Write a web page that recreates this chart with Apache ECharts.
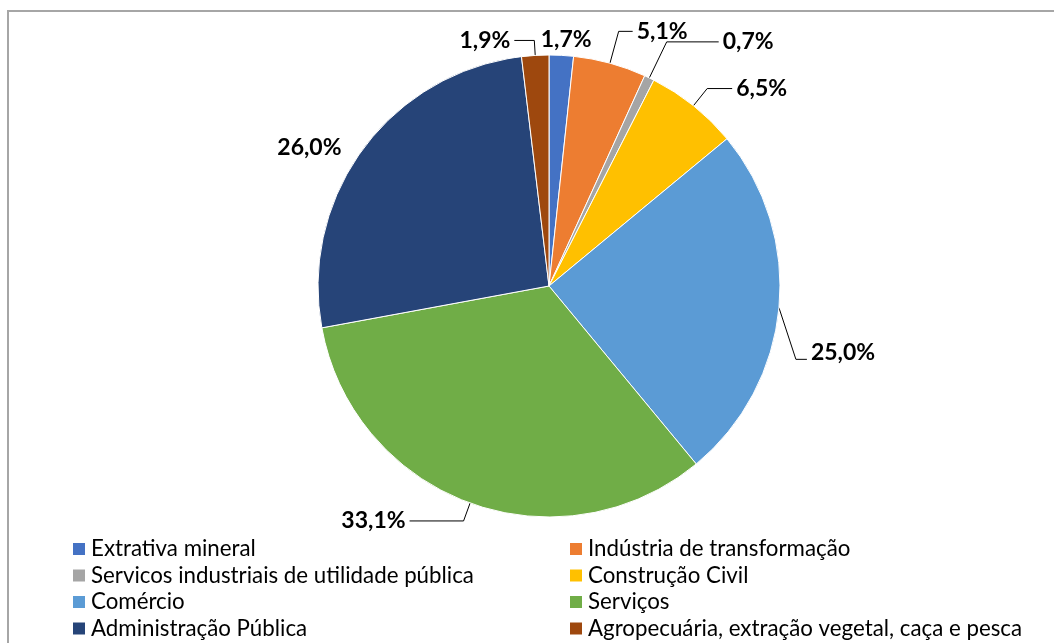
<!DOCTYPE html>
<html>
<head>
<meta charset="utf-8">
<script src="https://cdn.jsdelivr.net/npm/echarts@6/dist/echarts.min.js"></script>
<style>
  html, body { margin: 0; padding: 0; background: #fff; }
  #chart { width: 1054px; height: 643px; }
</style>
</head>
<body>
<div id="chart"></div>
<script>
// Participação dos setores de atividade (%)
const sectors = [
  'Extrativa mineral',
  'Indústria de transformação',
  'Servicos industriais de utilidade pública',
  'Construção Civil',
  'Comércio',
  'Serviços',
  'Administração Pública',
  'Agropecuária, extração vegetal, caça e pesca'
];
const shares = [1.7, 5.1, 0.7, 6.5, 25.0, 33.1, 26.0, 1.9];
const sectorColors = ['#4472C4', '#ED7D31', '#A5A5A5', '#FFC000', '#5B9BD5', '#70AD47', '#264478', '#9E480E'];

// legend columns: left column takes the even entries, right column the odd ones
const leftColumn = sectors.filter((_, i) => i % 2 === 0);
const rightColumn = sectors.filter((_, i) => i % 2 === 1);

// leader-line geometry per slice: radial part, horizontal part, visibility
const leader = [
  { len: 16, len2: 0,  show: false },
  { len: 33, len2: 14, show: true },
  { len: 40, len2: 52, show: true },
  { len: 22, len2: 25, show: true },
  { len: 17, len2: 11, show: true },
  { len: 19, len2: 54, show: true },
  { len: 3,  len2: 15, show: false },
  { len: 15, len2: 20, show: true }
];

const fmt = v => v.toFixed(1).replace('.', ',') + '%';

const pieData = sectors.map((name, i) => ({
  name: name,
  value: shares[i],
  itemStyle: { color: sectorColors[i] },
  labelLine: { show: leader[i].show, length: leader[i].len, length2: leader[i].len2 }
}));

const legendBase = {
  orient: 'vertical',
  top: 536,
  padding: 0,
  itemGap: 0.5,
  itemWidth: 14,
  itemHeight: 14,
  icon: 'rect',
  selectedMode: false,
  textStyle: { fontFamily: 'Lato', fontSize: 22.3, color: '#000', lineHeight: 26 }
};

const chart = echarts.init(document.getElementById('chart'), null, { renderer: 'canvas' });
chart.setOption({
  animation: false,
  backgroundColor: '#fff',
  graphic: [{
    type: 'rect',
    shape: { x: 8, y: 11, width: 1200, height: 800 },
    style: { fill: 'none', stroke: '#a6a6a6', lineWidth: 2 },
    silent: true
  }],
  legend: [
    Object.assign({}, legendBase, { left: 71, data: leftColumn }),
    Object.assign({}, legendBase, { left: 568, data: rightColumn })
  ],
  series: [{
    type: 'pie',
    center: [549, 286],
    radius: 231,
    startAngle: 90,
    clockwise: true,
    avoidLabelOverlap: false,
    data: pieData,
    itemStyle: { borderColor: '#fff', borderWidth: 1 },
    label: {
      show: true,
      position: 'outside',
      formatter: p => fmt(p.value),
      fontFamily: 'Lato',
      fontWeight: 'bold',
      fontSize: 23,
      color: '#000',
      distanceToLabelLine: 4
    },
    labelLine: { lineStyle: { color: '#000', width: 1 }, smooth: false },
    labelLayout: function (p) {
      if (p.dataIndex === 0) return { align: 'center' };
      if (p.dataIndex === 4) {
        const pts = p.labelLinePoints;
        const y = p.labelRect.y + p.labelRect.height / 2 + 43;
        return { y: y, labelLinePoints: [pts[0], [pts[1][0], y + 7], [pts[2][0], y + 7]] };
      }
      return {};
    }
  }]
});
</script>
</body>
</html>
